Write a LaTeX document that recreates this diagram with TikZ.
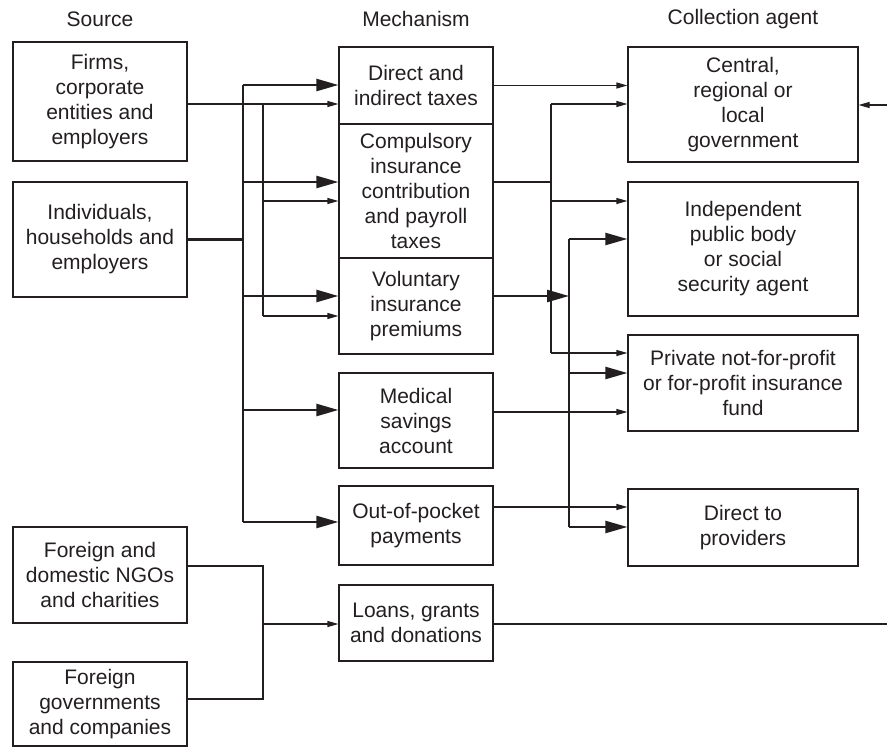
\documentclass[tikz,border=0pt]{standalone}
\usepackage{fontspec}
\setmainfont{Liberation Sans}
\usetikzlibrary{arrows.meta}
\definecolor{ink}{RGB}{35,31,32}
\begin{document}
\begin{tikzpicture}[x=1pt,y=-1pt,
  box/.style={draw=ink, line width=1.2pt, inner sep=0pt, align=center, text=ink,
              font=\fontsize{21}{25}\selectfont},
  ttl/.style={inner sep=0pt, text=ink, font=\fontsize{21}{25}\selectfont},
  ln/.style={draw=ink, line width=1.2pt},
  lnarr/.style={ln, -{Triangle[length=11pt,width=6pt]}},
  hv/.style={draw=ink, line width=2.4pt},
  hvarr/.style={hv, -{Triangle[length=22pt,width=12pt]}}]
\useasboundingbox (0,0) rectangle (887,754);
\fill[white] (0,0) rectangle (887,754);

% titles
\node[ttl] (tsrc) at (100,19) {Source};
\node[ttl] (tmech) at (416,19) {Mechanism};
\node[ttl] (tcoll) at (743,19) {Collection agent};

% sources
\node[box, minimum width=174pt, minimum height=119pt] (firms) at (100,101.5) {Firms,\\corporate\\entities and\\employers};
\node[box, minimum width=174pt, minimum height=115pt] (indiv) at (100,239.5) {Individuals,\\households and\\employers};
\node[box, minimum width=174pt, minimum height=96pt] (ngo) at (100,575) {Foreign and\\domestic NGOs\\and charities};
\node[box, minimum width=174pt, minimum height=84pt] (foreign) at (100,704) {Foreign\\governments\\and companies};

% mechanisms
\node[box, minimum width=154pt, minimum height=77pt] (direct) at (416,85.5) {Direct and\\indirect taxes};
\node[box, minimum width=154pt, minimum height=134pt] (compulsory) at (416,191) {Compulsory\\insurance\\contribution\\and payroll\\taxes};
\node[box, minimum width=154pt, minimum height=96pt] (voluntary) at (416,306) {Voluntary\\insurance\\premiums};
\node[box, minimum width=154pt, minimum height=95pt] (medical) at (416,420.5) {Medical\\savings\\account};
\node[box, minimum width=154pt, minimum height=79pt] (oop) at (416,525.5) {Out-of-pocket\\payments};
\node[box, minimum width=154pt, minimum height=76pt] (loans) at (416,623) {Loans, grants\\and donations};

% collection agents
\node[box, minimum width=230pt, minimum height=115pt] (central) at (743,104.5) {Central,\\regional or\\local\\government};
\node[box, minimum width=230pt, minimum height=134pt] (indep) at (743,249) {Independent\\public body\\or social\\security agent};
\node[box, minimum width=230pt, minimum height=96pt] (private) at (743,383) {Private not-for-profit\\or for-profit insurance\\fund};
\node[box, minimum width=230pt, minimum height=77pt] (providers) at (743,527.5) {Direct to\\providers};

% junction coordinates
\coordinate (hA) at (243,85);
\coordinate (hB) at (243,182);
\coordinate (hC) at (243,296);
\coordinate (hD) at (243,410);
\coordinate (hE) at (243,522);
\coordinate (hI) at (243,239.5);
\coordinate (tA) at (263,104);
\coordinate (tB) at (263,201);
\coordinate (tC) at (263,316);
\coordinate (rA) at (551,104);
\coordinate (rB) at (551,182);
\coordinate (rC) at (551,201);
\coordinate (rD) at (551,353);
\coordinate (vA) at (569,239);
\coordinate (vB) at (569,296);
\coordinate (vC) at (569,373);
\coordinate (vD) at (569,527);
\coordinate (mY) at (560,412);
\coordinate (oY) at (560,507);
\coordinate (nA) at (263,566);
\coordinate (nB) at (263,624);
\coordinate (nC) at (263,699);
\coordinate (edgeL) at (887,624);
\coordinate (edgeT) at (887,105);

% left heavy bus
\draw[hv] (indiv.east) -- (hI);
\draw[hv] (hA) -- (hE);
\draw[hvarr] (hA) -- (hA -| direct.west);
\draw[hvarr] (hB) -- (hB -| compulsory.west);
\draw[hvarr] (hC) -- (hC -| voluntary.west);
\draw[hvarr] (hD) -- (hD -| medical.west);
\draw[hvarr] (hE) -- (hE -| oop.west);

% left thin bus
\draw[lnarr] (firms.east |- tA) -- (tA -| direct.west);
\draw[ln] (tA) -- (tC);
\draw[lnarr] (tB) -- (tB -| compulsory.west);
\draw[lnarr] (tC) -- (tC -| voluntary.west);

% right thin
\draw[lnarr] (direct.east) -- (direct.east -| central.west);
\draw[ln] (compulsory.east |- rB) -- (rB);
\draw[ln] (rA) -- (rD);
\draw[lnarr] (rA) -- (rA -| central.west);
\draw[lnarr] (rC) -- (rC -| indep.west);
\draw[lnarr] (rD) -- (rD -| private.west);
\draw[lnarr] (medical.east |- mY) -- (mY -| private.west);
\draw[lnarr] (oop.east |- oY) -- (oY -| providers.west);

% right heavy bus
\draw[hvarr] (voluntary.east |- vB) -- (vB);
\draw[hv] (vA) -- (vD);
\draw[hvarr] (vA) -- (vA -| indep.west);
\draw[hvarr] (vC) -- (vC -| private.west);
\draw[hvarr] (vD) -- (vD -| providers.west);

% bottom
\draw[ln] (ngo.east |- nA) -- (nA) -- (nC) -- (foreign.east |- nC);
\draw[lnarr] (nB) -- (nB -| loans.west);
\draw[ln] (loans.east |- nB) -- (edgeL);
\draw[lnarr] (edgeT) -- (edgeT -| central.east);
\end{tikzpicture}
\end{document}
